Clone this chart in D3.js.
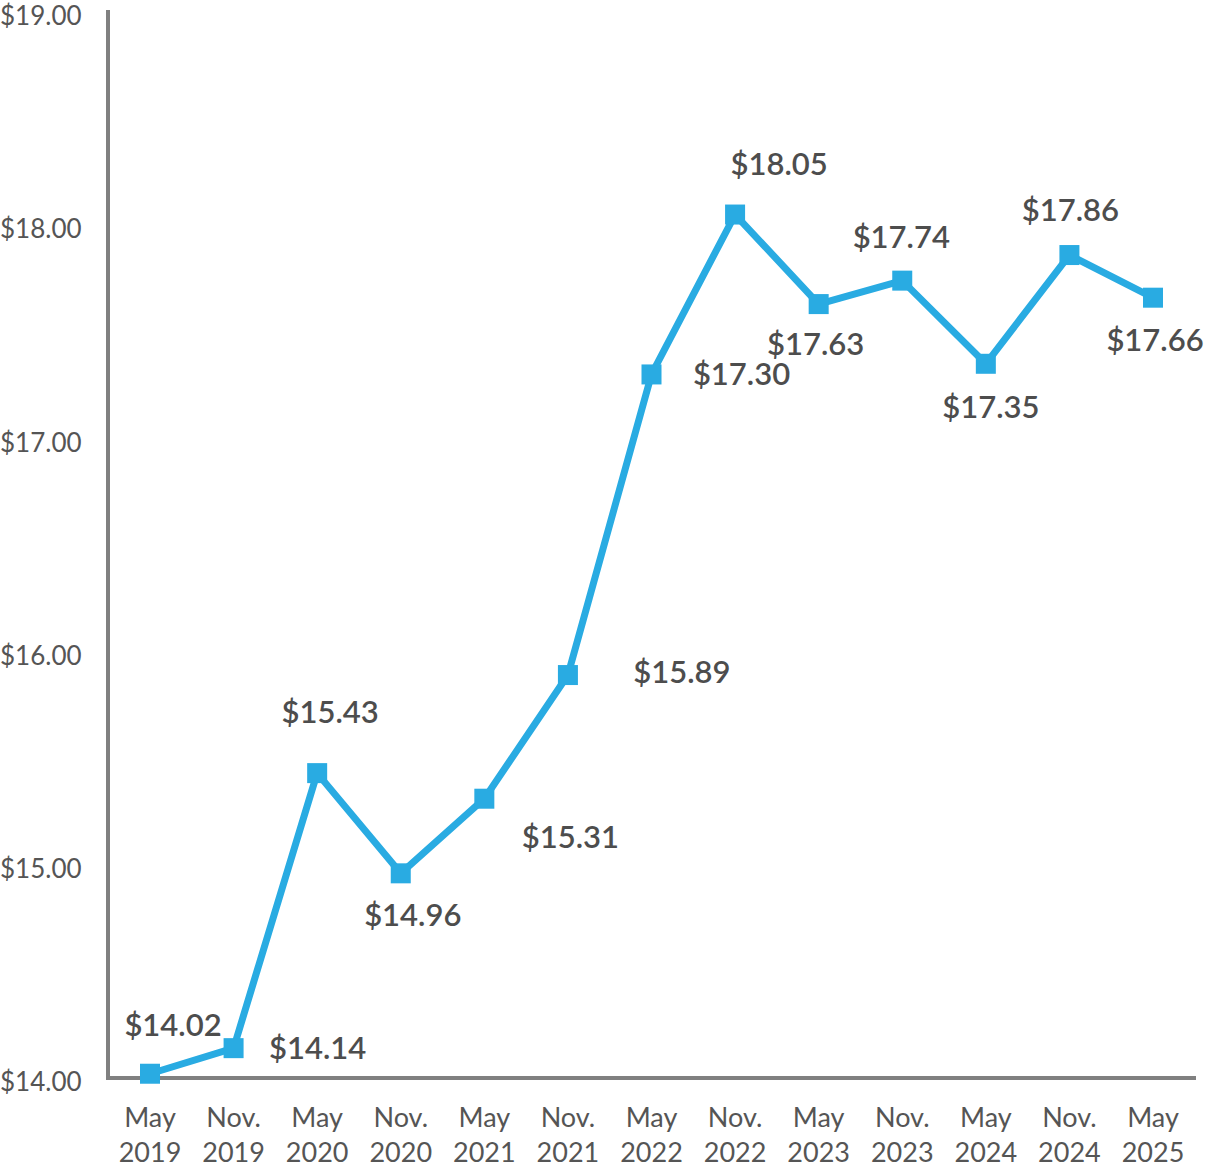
<!DOCTYPE html>
<html><head><meta charset="utf-8">
<script src="https://cdn.jsdelivr.net/npm/d3@7"></script>
<style>body{margin:0;background:#fff}svg{font-family:Lato,"Open Sans",sans-serif}</style>
</head><body><svg id="c" width="1220" height="1171"></svg>
<script>
const monthLabels=["May","Nov.","May","Nov.","May","Nov.","May","Nov.","May","Nov.","May","Nov.","May"];
const yearLabels=["2019","2019","2020","2020","2021","2021","2022","2022","2023","2023","2024","2024","2025"];
const values=[14.02,14.14,15.43,14.96,15.31,15.89,17.30,18.05,17.63,17.74,17.35,17.86,17.66];
const yTicks=[14,15,16,17,18,19];
const labelDx=[23,84,13,12,86,114,90,44,-3,-1,5,1,2];
const labelDy=[-49,0,-61,42,38,-3,0,-50,40,-43,43,-45,42];

const svg=d3.select("#c");
const x=d3.scalePoint().domain(d3.range(values.length)).range([150,1153]);
const y=d3.scaleLinear().domain([14,19]).range([1078,12]);
const grey="#808080", txt="#555";

svg.append("line").attr("x1",108).attr("x2",108).attr("y1",10).attr("y2",1080).attr("stroke",grey).attr("stroke-width",4);
svg.append("line").attr("x1",106).attr("x2",1196).attr("y1",1078).attr("y2",1078).attr("stroke",grey).attr("stroke-width",4);

svg.selectAll(".yt").data(yTicks).join("text").attr("x",0).attr("y",d=>y(d)+4).attr("dy","0.35em")
 .attr("font-size",26).attr("fill",txt).text(d=>"$"+d.toFixed(2));

const xg=svg.selectAll(".xt").data(monthLabels).join("text").attr("text-anchor","middle")
 .attr("font-size",27).attr("fill",txt);
xg.append("tspan").attr("x",(d,i)=>x(i)).attr("y",1127).text(d=>d);
xg.append("tspan").attr("x",(d,i)=>x(i)).attr("y",1162).text((d,i)=>yearLabels[i]);

svg.append("path").datum(values).attr("fill","none").attr("stroke","#29abe2").attr("stroke-width",7)
 .attr("stroke-linejoin","round").attr("d",d3.line().x((d,i)=>x(i)).y(d=>y(d)));
svg.selectAll(".pt").data(values).join("rect").attr("x",(d,i)=>x(i)-10).attr("y",d=>y(d)-10)
 .attr("width",20).attr("height",20).attr("fill","#29abe2");

svg.selectAll(".lb").data(values).join("text").attr("text-anchor","middle").attr("dy","0.35em")
 .attr("x",(d,i)=>x(i)+labelDx[i]).attr("y",(d,i)=>y(d)+labelDy[i])
 .attr("font-size",31).attr("font-weight",600).attr("fill","#4d4d4d").text(d=>"$"+d.toFixed(2));
</script></body></html>
